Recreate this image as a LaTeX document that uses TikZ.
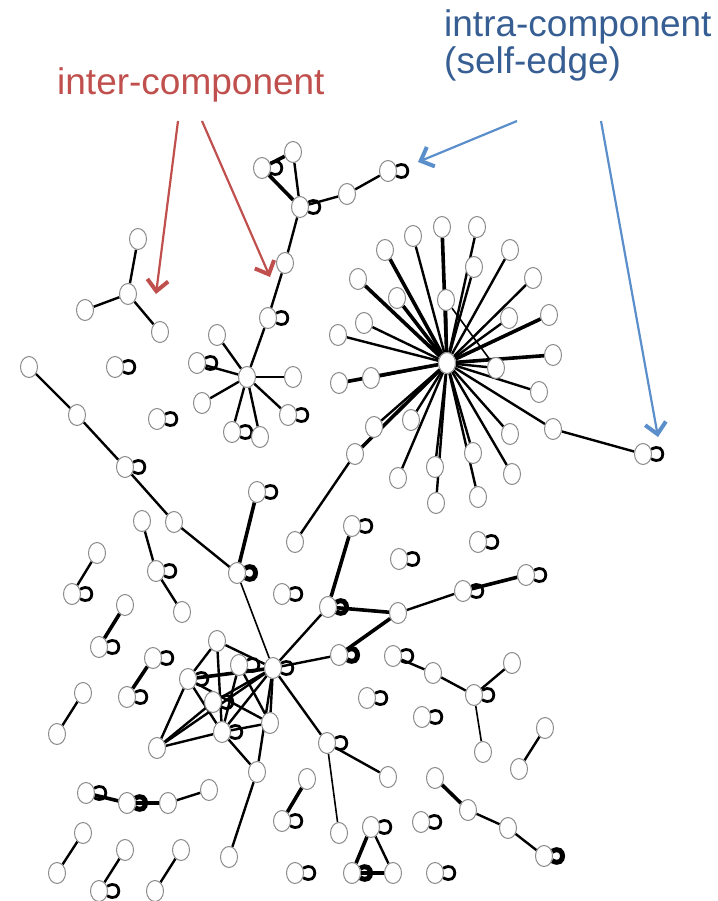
\documentclass[tikz,border=0pt]{standalone}
\usepackage{fontspec}
\setmainfont{Liberation Sans}
\usepackage{tikz}
\usetikzlibrary{arrows.meta, positioning, shapes.geometric, backgrounds}
\definecolor{intred}{HTML}{C0504D}
\definecolor{intblue}{HTML}{375E92}
\definecolor{arrblue}{HTML}{5B8FCB}

\begin{document}
\begin{tikzpicture}[
  x=1pt, y=-1pt,
  vert/.style={ellipse, draw=black!45, line width=1pt, fill=white, minimum width=17pt, minimum height=21pt, inner sep=0pt},
  link/.style={line width=2.4pt},
  thinlink/.style={line width=1.6pt},
  heavylink/.style={line width=3.6pt},
  selfloop/.style={line width=2.8pt, out=30, in=-30, min distance=18pt},
  heavyloop/.style={line width=5pt, out=30, in=-30, min distance=16pt},
  tag/.style={font=\fontsize{37}{42}\selectfont, inner sep=0pt, anchor=base west},
  redarrow/.style={-{Straight Barb[length=11pt,width=21pt,line width=4pt]}, line width=2.2pt, intred},
  bluearrow/.style={-{Straight Barb[length=11pt,width=21pt,line width=4pt]}, line width=2.2pt, arrblue},
]
\useasboundingbox (0,0) rectangle (717,901);

% Labels and pointers
\node[tag, text=intred] (intertag) at (57,95) {inter-component};
\node[tag, text=intblue] (intratag) at (444,37) {intra-component};
\node[tag, text=intblue] (selftag) at (444,74) {(self-edge)};
\coordinate (redtail1) at (178,121);
\coordinate (redtip1) at (156,294);
\coordinate (redtail2) at (202,121);
\coordinate (redtip2) at (270,277);
\coordinate (bluetail1) at (517,121);
\coordinate (bluetip1) at (418,162);
\coordinate (bluetail2) at (601,121);
\coordinate (bluetip2) at (658,437);
\draw[redarrow] (redtail1) -- (redtip1);
\draw[redarrow] (redtail2) -- (redtip2);
\draw[bluearrow] (bluetail1) -- (bluetip1);
\draw[bluearrow] (bluetail2) -- (bluetip2);

% Top component
\node[vert] (t1) at (293,152) {};
\node[vert] (t2) at (262,168) {};
\node[vert] (t3) at (300,207) {};
\node[vert] (t4) at (347,194) {};
\node[vert] (t5) at (388,171) {};
\node[vert] (t6) at (285,263) {};
\node[vert] (t7) at (268,318) {};
\node[vert] (s0) at (247,377) {};
\node[vert] (s1) at (217,335) {};
\node[vert] (s2) at (197,363) {};
\node[vert] (s3) at (293,377) {};
\node[vert] (s4) at (202,403) {};
\node[vert] (s5) at (288,415) {};
\node[vert] (s6) at (232,432) {};
\node[vert] (s7) at (260,437) {};

% Y component and isolated vertices
\node[vert] (y0) at (128,294) {};
\node[vert] (y1) at (138,239) {};
\node[vert] (y2) at (85,310) {};
\node[vert] (y3) at (160,332) {};
\node[vert] (i1) at (115,367) {};
\node[vert] (i2) at (157,419) {};

% Big star
\node[vert] (h0) at (447,363) {};
\node[vert] (a1) at (385,250) {};
\node[vert] (a2) at (413,236) {};
\node[vert] (a3) at (442,227) {};
\node[vert] (a4) at (477,227) {};
\node[vert] (a5) at (474,267) {};
\node[vert] (a6) at (510,250) {};
\node[vert] (a7) at (533,278) {};
\node[vert] (a8) at (358,279) {};
\node[vert] (a9) at (397,298) {};
\node[vert] (a10) at (446,300) {};
\node[vert] (a11) at (509,318) {};
\node[vert] (a12) at (549,315) {};
\node[vert] (a13) at (364,323) {};
\node[vert] (a14) at (338,335) {};
\node[vert] (a15) at (553,355) {};
\node[vert] (a16) at (496,368) {};
\node[vert] (a17) at (339,383) {};
\node[vert] (a18) at (371,378) {};
\node[vert] (a19) at (539,392) {};
\node[vert] (a20) at (374,427) {};
\node[vert] (a21) at (411,420) {};
\node[vert] (a22) at (355,454) {};
\node[vert] (a23) at (510,434) {};
\node[vert] (a24) at (553,429) {};
\node[vert] (a25) at (435,467) {};
\node[vert] (a26) at (473,453) {};
\node[vert] (a27) at (398,478) {};
\node[vert] (a28) at (512,474) {};
\node[vert] (a29) at (436,503) {};
\node[vert] (a30) at (478,497) {};
\node[vert] (a31) at (643,454) {};
\node[vert] (a32) at (295,542) {};

% Left chain
\node[vert] (c1) at (29,367) {};
\node[vert] (c2) at (77,415) {};
\node[vert] (c3) at (125,467) {};
\node[vert] (c4) at (174,522) {};
\node[vert] (m0) at (237,573) {};
\node[vert] (m1) at (257,492) {};

% Small pieces, left
\node[vert] (p1) at (142,521) {};
\node[vert] (p2) at (156,571) {};
\node[vert] (p3) at (182,612) {};
\node[vert] (q1) at (97,553) {};
\node[vert] (q2) at (72,594) {};
\node[vert] (r1) at (125,605) {};
\node[vert] (r2) at (99,647) {};
\node[vert] (u1) at (153,658) {};
\node[vert] (u2) at (127,697) {};
\node[vert] (v1) at (83,693) {};
\node[vert] (v2) at (57,734) {};
\node[vert] (i3) at (282,594) {};

% Middle right
\node[vert] (w1) at (352,526) {};
\node[vert] (w2) at (328,607) {};
\node[vert] (i4) at (399,559) {};
\node[vert] (i5) at (478,542) {};
\node[vert] (w3) at (526,575) {};
\node[vert] (w4) at (463,591) {};
\node[vert] (w5) at (398,613) {};
\node[vert] (w6) at (339,655) {};
\node[vert] (x1) at (393,656) {};
\node[vert] (x2) at (433,673) {};
\node[vert] (x3) at (474,695) {};
\node[vert] (x4) at (512,663) {};
\node[vert] (x5) at (483,752) {};
\node[vert] (i6) at (367,698) {};
\node[vert] (i7) at (422,717) {};
\node[vert] (z1) at (545,728) {};
\node[vert] (z2) at (519,769) {};

% Dense cluster
\node[vert] (k0) at (273,668) {};
\node[vert] (k1) at (217,641) {};
\node[vert] (k2) at (188,679) {};
\node[vert] (k3) at (239,665) {};
\node[vert] (k4) at (213,702) {};
\node[vert] (k5) at (222,732) {};
\node[vert] (k6) at (270,723) {};
\node[vert] (k7) at (157,748) {};
\node[vert] (k8) at (257,772) {};
\node[vert] (k9) at (229,857) {};
\node[vert] (n1) at (327,743) {};
\node[vert] (n2) at (388,777) {};
\node[vert] (n3) at (339,833) {};
\node[vert] (o1) at (307,779) {};
\node[vert] (o2) at (282,821) {};

% Bottom
\node[vert] (b1) at (86,793) {};
\node[vert] (b2) at (127,803) {};
\node[vert] (b3) at (168,803) {};
\node[vert] (b4) at (209,790) {};
\node[vert] (d1) at (83,833) {};
\node[vert] (d2) at (57,873) {};
\node[vert] (e1) at (125,850) {};
\node[vert] (e2) at (99,891) {};
\node[vert] (f1) at (181,850) {};
\node[vert] (f2) at (155,891) {};
\node[vert] (i8) at (295,873) {};
\node[vert] (g1) at (371,827) {};
\node[vert] (g2) at (352,873) {};
\node[vert] (g3) at (393,873) {};
\node[vert] (i9) at (421,822) {};
\node[vert] (i10) at (435,873) {};
\node[vert] (l1) at (435,778) {};
\node[vert] (l2) at (468,810) {};
\node[vert] (l3) at (508,828) {};
\node[vert] (l4) at (544,856) {};

\begin{scope}[on background layer]
% Edges
\draw[heavylink] (t2) -- (t1);
\draw[heavylink] (t2) -- (t3);
\draw[link] (t1) -- (t3);
\draw[link] (t3) -- (t4);
\draw[link] (t4) -- (t5);
\draw[link] (t3) -- (t6);
\draw[link] (t6) -- (t7);
\draw[link] (t7) -- (s0);
\foreach \n in {s1,s2,s3,s4,s5,s6,s7} \draw[link] (s0) -- (\n);
\foreach \n in {y1,y2,y3} \draw[link] (y0) -- (\n);

\foreach \n in {a1,a3,a8,a9,a12,a15,a17,a22} \draw[heavylink] (h0) -- (\n);
\foreach \n in {a2,a4,a5,a6,a7,a10,a11,a13,a14,a16,a18,a19,a20,a21,a23,a24,a25,a26,a27,a28,a29,a30} \draw[link] (h0) -- (\n);
\draw[thinlink] (a10) -- (a16);
\draw[link] (a24) -- (a31);
\draw[link] (a22) -- (a32);

\draw[link] (c1) -- (c2);
\draw[link] (c2) -- (c3);
\draw[link] (c3) -- (c4);
\draw[link] (c4) -- (m0);
\draw[heavylink] (m0) -- (m1);
\draw[thinlink] (m0) -- (k0);

\draw[link] (p1) -- (p2);
\draw[link] (p2) -- (p3);
\draw[link] (q1) -- (q2);
\draw[heavylink] (r1) -- (r2);
\draw[heavylink] (u1) -- (u2);
\draw[link] (v1) -- (v2);

\draw[heavylink] (w1) -- (w2);
\draw[heavylink] (w3) -- (w4);
\draw[link] (w4) -- (w5);
\draw[heavylink] (w5) -- (w2);
\draw[heavylink] (w5) -- (w6);
\draw[link] (w6) -- (k0);
\draw[link] (w2) -- (k0);
\draw[link] (x1) -- (x2);
\draw[link] (x2) -- (x3);
\draw[link] (x3) -- (x4);
\draw[thinlink] (x3) -- (x5);
\draw[link] (z1) -- (z2);

\draw[heavylink] (k2) -- (k0);
\foreach \a/\b in {k1/k2,k1/k0,k1/k5,k2/k7,k2/k5,k2/k6,k7/k0,k7/k5,k7/k4,k5/k0,k5/k6,k5/k8,k0/k6,k0/k8,k3/k6,k3/k5,k4/k0}
  \draw[link] (\a) -- (\b);
\draw[link] (k8) -- (k9);
\draw[link] (k0) -- (n1);
\draw[link] (n1) -- (n2);
\draw[thinlink] (n1) -- (n3);
\draw[heavylink] (o1) -- (o2);

\draw[heavylink] (b1) -- (b2);
\draw[heavylink] (b2) -- (b3);
\draw[link] (b3) -- (b4);
\draw[link] (d1) -- (d2);
\draw[link] (e1) -- (e2);
\draw[link] (f1) -- (f2);
\draw[heavylink] (g1) -- (g2);
\draw[link] (g1) -- (g3);
\draw[heavylink] (g2) -- (g3);
\draw[heavylink] (l1) -- (l2);
\draw[link] (l2) -- (l3);
\draw[link] (l3) -- (l4);

% Self-edges
\foreach \n in {t2,t3,t5,t7,s2,s5,s6,i1,i2,a31,c3,m1,p2,q2,r2,u1,u2,i3,w1,i4,i5,w3,w4,x1,x3,i6,i7,k0,k2,k3,k4,k5,n1,o2,b1,e2,i8,g1,i9,i10}
  \draw[selfloop] (\n) to (\n);
\foreach \n in {m0,w2,w6,b2,g2,l4}
  \draw[heavyloop] (\n) to (\n);
\end{scope}

\end{tikzpicture}
\end{document}
